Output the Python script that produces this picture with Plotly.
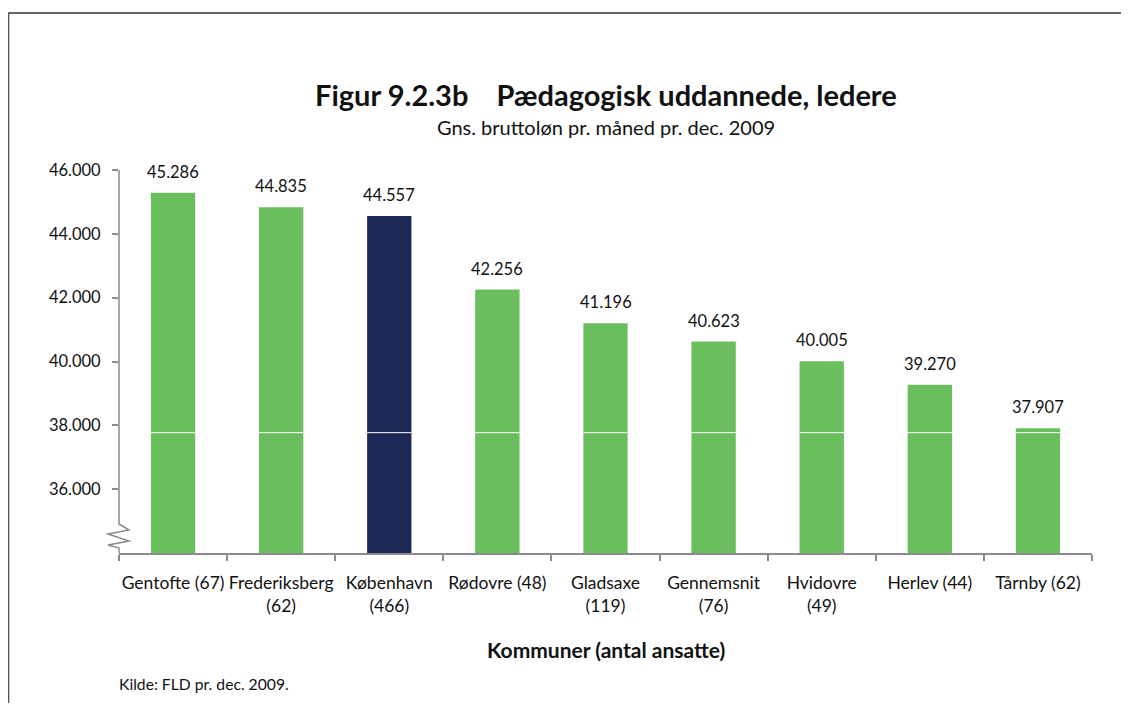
import plotly.graph_objects as go

categories = ["Gentofte (67)", "Frederiksberg<br>(62)", "København<br>(466)", "Rødovre (48)",
              "Gladsaxe<br>(119)", "Gennemsnit<br>(76)", "Hvidovre<br>(49)", "Herlev (44)", "Tårnby (62)"]
values = [45286, 44835, 44557, 42256, 41196, 40623, 40005, 39270, 37907]
highlight = "København<br>(466)"
tick_vals = [36000, 38000, 40000, 42000, 44000, 46000]
y_range = [34000, 46000]
break_value = 37770

GREEN = "#6BBE5E"
NAVY = "#1E2857"
FONT = "Lato"

colors = [NAVY if c == highlight else GREEN for c in categories]

fig = go.Figure()
fig.add_trace(go.Bar(x=categories, y=values, marker=dict(color=colors, line=dict(width=0)),
                     width=0.41, hoverinfo="x+y"))

# value labels
for c, v in zip(categories, values):
    fig.add_annotation(x=c, y=v, xref="x", yref="y", text=f"{v:,}".replace(",", "."),
                       showarrow=False, yanchor="bottom", yshift=9,
                       font=dict(family=FONT, size=16.5, color="#111"))

# white break line across bars
shapes = []
for i, c in enumerate(categories):
    if values[i] > break_value:
        shapes.append(dict(type="line", xref="x", yref="y", x0=i - 0.205, x1=i + 0.205,
                           y0=break_value, y1=break_value, line=dict(color="white", width=1), layer="above"))

# y axis line with zigzag break
shapes.append(dict(type="path", xref="paper", yref="paper",
                   path="M 0,1 L 0,0.0757 L 0.0103,0.0601 L -0.0113,0.0496 L 0.0103,0.0313 L -0.0113,0.0209 L 0,0.0131 L 0,0",
                   line=dict(color="#8a8a8f", width=1.5), layer="above"))
# frame
shapes.append(dict(type="line", xref="paper", yref="paper", x0=-0.114, x1=1.04, y0=1.41, y1=1.41,
                   line=dict(color="#666", width=2)))
shapes.append(dict(type="line", xref="paper", yref="paper", x0=-0.1135, x1=-0.1135, y0=1.41, y1=-0.45,
                   line=dict(color="#555", width=1.5)))

fig.update_layout(
    shapes=shapes,
    separators=",.",
    plot_bgcolor="white",
    paper_bgcolor="white",
    showlegend=False,
    margin=dict(l=111, r=29, t=162, b=150),
    font=dict(family=FONT, size=16, color="#111"),
    annotations=list(fig.layout.annotations) + [
        dict(text="<b>Figur 9.2.3b    Pædagogisk uddannede, ledere</b>", xref="paper", yref="paper",
             x=0.5, y=1.196, showarrow=False, font=dict(family=FONT, size=29, color="#111"), yanchor="middle"),
        dict(text="Gns. bruttoløn pr. måned pr. dec. 2009", xref="paper", yref="paper",
             x=0.5, y=1.112, showarrow=False, font=dict(family=FONT, size=20, color="#111"), yanchor="middle"),
        dict(text="<b>Kommuner (antal ansatte)</b>", xref="paper", yref="paper",
             x=0.5, y=-0.2507, showarrow=False, font=dict(family=FONT, size=21, color="#111"), yanchor="middle"),
        dict(text="Kilde: FLD pr. dec. 2009.", xref="paper", yref="paper",
             x=-0.002, y=-0.342, showarrow=False, xanchor="left", yanchor="middle",
             font=dict(family=FONT, size=15.7, color="#111")),
    ],
)

fig.update_xaxes(showline=True, linecolor="#8a8a8f", linewidth=2, ticks="outside", tickson="boundaries",
                 ticklen=6, tickcolor="#8a8a8f", tickwidth=1.5, showgrid=False, ticklabelstandoff=13,
                 tickfont=dict(family=FONT, size=17.5, color="#111"), tickangle=0)
fig.update_yaxes(range=y_range, tickvals=tick_vals, tickformat=",.0f", showgrid=False, zeroline=False,
                 showline=False, ticks="outside", ticklen=6, tickcolor="#8a8a8f", tickwidth=1.5,
                 ticklabelstandoff=8, tickfont=dict(family=FONT, size=16.5, color="#111"))

fig.write_html("out.html")
